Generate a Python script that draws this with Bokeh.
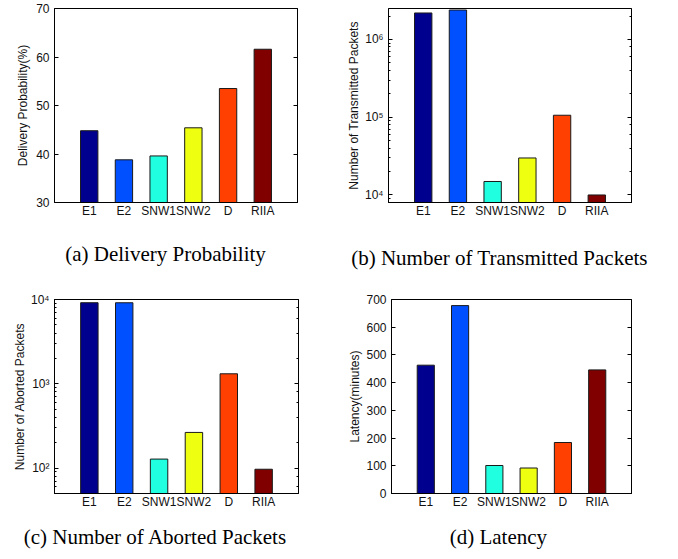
from bokeh.plotting import figure
from bokeh.models import (FactorRange, Range1d, LinearAxis, LogAxis,
                          FixedTicker, CustomJSTickFormatter, ColumnDataSource)
from bokeh.layouts import column, row
from bokeh.embed import file_html
from bokeh.resources import INLINE

categories = ["E1", "E2", "SNW1", "SNW2", "D", "RIIA"]
bar_colors = ["#00008F", "#0050FF", "#20FFDF", "#EFFF10", "#FF4000", "#800000"]

delivery_probability = [44.8, 38.8, 39.6, 45.4, 53.5, 61.6]
transmitted_packets = [2.19e6, 2.39e6, 1.49e4, 2.99e4, 1.06e5, 1.0e4]
aborted_packets = [9160, 9150, 128, 265, 1315, 97]
latency = [463, 678, 101, 92, 184, 446]

FONT = "Liberation Sans"
SERIF = "Liberation Serif"
NBSP = "\u00a0"

SUP_JS = """
const sup = ['\u2070','\u00b9','\u00b2','\u00b3','\u2074','\u2075','\u2076','\u2077','\u2078','\u2079'];
const e = Math.round(Math.log10(tick));
return '10' + String(e).split('').map(c => sup[parseInt(c)]).join('');
"""


def style_axis(ax, log=False):
    ax.axis_line_color = "black"
    ax.axis_line_width = 1
    ax.major_tick_in = 4
    ax.major_tick_out = 0
    ax.major_tick_line_color = "black"
    if log:
        ax.minor_tick_in = 2
        ax.minor_tick_out = 0
        ax.minor_tick_line_color = "black"
    else:
        ax.minor_tick_line_color = None
    ax.major_label_text_font = FONT
    ax.major_label_text_font_size = "12px"
    ax.major_label_text_color = "#111111"
    ax.major_label_standoff = 5


def make(values, ylabel, caption, log, y0, y1, ticks, w, h,
         bl, br, bt, bb, cap_shift, cap_standoff, label_standoff):
    src = ColumnDataSource(dict(cat=categories, val=values, color=bar_colors))
    kw = dict(y_axis_type="log") if log else {}
    p = figure(width=w, height=h, output_backend="svg", toolbar_location=None,
               x_range=FactorRange(factors=categories, range_padding=1 / 6),
               y_range=Range1d(y0, y1), min_border_left=bl, min_border_right=br,
               min_border_top=bt, min_border_bottom=bb, **kw)
    bottom = 1 if log else 0
    p.vbar(x="cat", top="val", bottom=bottom, width=0.5, source=src,
           fill_color="color", line_color="#1a1a1a", line_width=1)
    p.xgrid.grid_line_color = None
    p.ygrid.grid_line_color = None
    p.outline_line_color = "black"
    p.outline_line_alpha = 1
    p.background_fill_color = "white"
    p.border_fill_color = "white"

    xa = p.xaxis[0]
    style_axis(xa)
    xa.major_tick_in = 0
    xa.major_label_standoff = 1
    # sub-figure caption, set under the category labels
    xa.axis_label = caption + NBSP * cap_shift
    xa.axis_label_text_font = SERIF
    xa.axis_label_text_font_size = "21px"
    xa.axis_label_text_font_style = "normal"
    xa.axis_label_text_color = "black"
    xa.axis_label_standoff = cap_standoff

    ya = p.yaxis[0]
    style_axis(ya, log)
    if log:
        ya.formatter = CustomJSTickFormatter(code=SUP_JS)
    else:
        ya.ticker = FixedTicker(ticks=ticks)
    ya.axis_label = ylabel
    ya.axis_label_text_font = FONT
    ya.axis_label_text_font_size = "12px"
    ya.axis_label_text_font_style = "normal"
    ya.axis_label_text_color = "#111111"
    ya.axis_label_standoff = label_standoff

    ra = LogAxis() if log else LinearAxis()
    style_axis(ra, log)
    if not log:
        ra.ticker = FixedTicker(ticks=ticks)
    ra.formatter = CustomJSTickFormatter(code="return '';")
    ra.major_label_standoff = 0
    p.add_layout(ra, "right")
    return p


pa = make(delivery_probability, "Delivery Probability(%)", "(a) Delivery Probability",
          False, 30, 70, [30, 40, 50, 60, 70], 339, 280, 54, 42, 8, 77, 4, 21, 3)
pb = make(transmitted_packets, "Number of Transmitted Packets",
          "(b) Number of Transmitted Packets",
          True, 8000, 2.5e6, None, 331, 280, 49, 39, 6, 78, 4, 25, 1)
pc = make(aborted_packets, "Number of Aborted Packets", "(c) Number of Aborted Packets",
          True, 50, 1e4, None, 339, 271, 54, 41, 19, 58, 8, 13, 1)
pd = make(latency, "Latency(minutes)", "(d) Latency",
          False, 0, 700, [0, 100, 200, 300, 400, 500, 600, 700], 331, 271, 52, 39, 19, 58, 5, 13, 1)

layout = column(row(pa, pb), row(pc, pd))

with open("out.html", "w") as f:
    f.write(file_html(layout, INLINE))
